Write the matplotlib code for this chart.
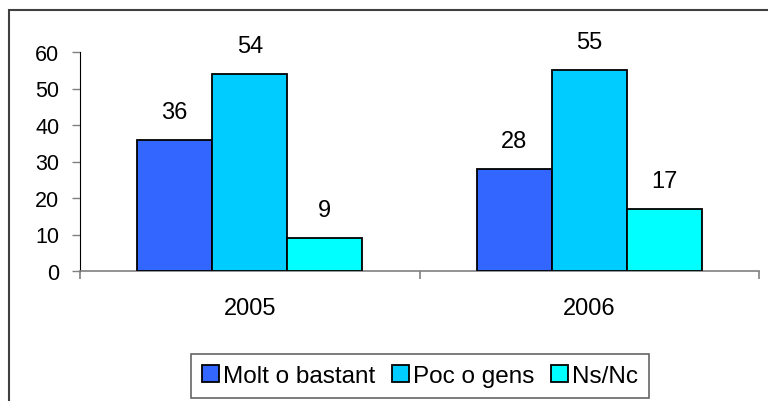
import numpy as np
import matplotlib.pyplot as plt
from matplotlib.patches import Patch, Rectangle

plt.rcParams['font.family'] = ['Liberation Sans', 'DejaVu Sans']

years = ['2005', '2006']
series = ['Molt o bastant', 'Poc o gens', 'Ns/Nc']
molt = [36, 28]
poc = [54, 55]
nsnc = [9, 17]
colors = ['#3366FF', '#00CCFF', '#00FFFF']

W, H = 768, 402
fig = plt.figure(figsize=(W / 100, H / 100), dpi=100)
ax = fig.add_axes([80 / W, 130 / H, (759 - 80) / W, (349 - 130) / H])

x = np.arange(len(years))
width = 0.221
for i, (vals, col) in enumerate(zip([molt, poc, nsnc], colors)):
    bars = ax.bar(x + (i - 1) * width, vals, width, color=col,
                  edgecolor='black', linewidth=1.3, zorder=3)
    for b, v in zip(bars, vals):
        ax.annotate(str(v), (b.get_x() + b.get_width() / 2, v),
                    xytext=(0, 20), textcoords='offset points',
                    ha='center', va='center', fontsize=17)

ax.set_xlim(-0.5, 1.5)
ax.set_ylim(0, 60)
ax.set_yticks(range(0, 61, 10))
ax.tick_params(axis='y', direction='out', length=6, width=1,
               color='#808080', labelsize=15.5, pad=9)

# category labels at centers, tick marks at boundaries
ax.set_xticks(x)
ax.set_xticklabels(years, fontsize=17)
ax.tick_params(axis='x', which='major', length=0, pad=19)
ax.set_xticks([-0.5, 0.5, 1.5], minor=True)
ax.tick_params(axis='x', which='minor', direction='out', length=6,
               width=1.2, color='#808080')

for s in ['top', 'right']:
    ax.spines[s].set_visible(False)
ax.spines['left'].set_color('black')
ax.spines['bottom'].set_color('#808080')
ax.spines['bottom'].set_linewidth(1.2)

# outer chart border (cut off at right and bottom)
fig.add_artist(Rectangle((9 / W, -0.1), 1.2, 1.1 - 11 / H,
                         transform=fig.transFigure, fill=False,
                         edgecolor='#404040', linewidth=1.5))

handles = [Patch(facecolor=c, edgecolor='black', linewidth=1.3) for c in colors]
leg = fig.legend(handles, series, loc='center',
                 bbox_to_anchor=(420 / W, 25 / H), ncol=3, fontsize=17.5,
                 frameon=True, fancybox=False, handlelength=0.7,
                 handleheight=0.7, handletextpad=0.15, columnspacing=0.7,
                 borderpad=0.45, borderaxespad=0)
leg.get_frame().set_edgecolor('#404040')
leg.get_frame().set_linewidth(1.2)

fig.savefig('out.png', dpi=100)
